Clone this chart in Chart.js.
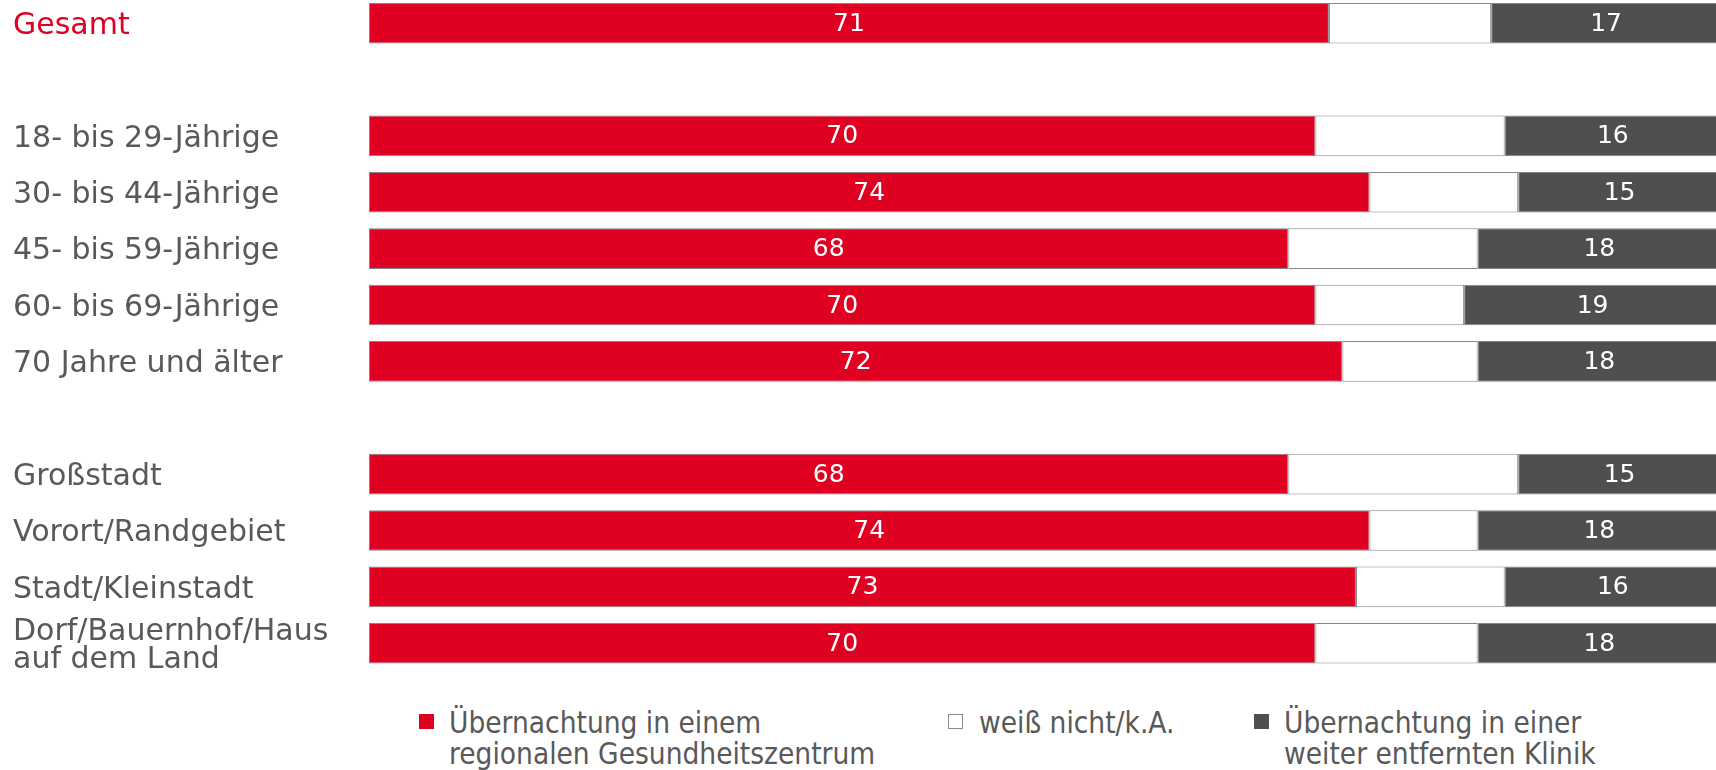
<!DOCTYPE html>
<html lang="de">
<head>
<meta charset="utf-8">
<title>Übernachtung – regional oder entfernt</title>
<script src="https://cdn.jsdelivr.net/npm/chart.js@4.4.1/dist/chart.umd.min.js"></script>
<style>
  html, body { margin: 0; padding: 0; background: #ffffff; }
  body { width: 1716px; height: 770px; position: relative; overflow: hidden; }
  #wrap { position: absolute; left: 0; top: -35.2px; width: 1722px; height: 722.4px; }
  .legend-item { position: absolute; font-family: "DejaVu Sans Condensed", "DejaVu Sans", sans-serif;
    font-size: 29.5px; line-height: 31px; color: #595959; white-space: nowrap; }
  .swatch { position: absolute; width: 15px; height: 15px; box-sizing: border-box; }
</style>
</head>
<body>
<div id="wrap"><canvas id="chart"></canvas></div>

<div class="swatch" style="left:419px; top:714px; background:#E00022;"></div>
<div class="legend-item" style="left:449px; top:708px;">Übernachtung in einem<br>regionalen Gesundheitszentrum</div>

<div class="swatch" style="left:948px; top:714px; background:#ffffff; border:1px solid #8c8c8c;"></div>
<div class="legend-item" style="left:979px; top:708px;">weiß nicht/k.A.</div>

<div class="swatch" style="left:1254px; top:714px; background:#4F4F4F;"></div>
<div class="legend-item" style="left:1284px; top:708px;">Übernachtung in einer<br>weiter entfernten Klinik</div>

<script>
// Rows (empty strings are spacer rows between the groups)
const categories = [
  'Gesamt',
  '',
  '18- bis 29-Jährige',
  '30- bis 44-Jährige',
  '45- bis 59-Jährige',
  '60- bis 69-Jährige',
  '70 Jahre und älter',
  '',
  'Großstadt',
  'Vorort/Randgebiet',
  'Stadt/Kleinstadt',
  ['Dorf/Bauernhof/Haus', 'auf dem Land']
];

// Shares in percent
const regional  = [71, null, 70, 74, 68, 70, 72, null, 68, 74, 73, 70];
const unknown   = [12, null, 14, 11, 14, 11, 10, null, 17,  8, 11, 12];
const distant   = [17, null, 16, 15, 18, 19, 18, null, 15, 18, 16, 18];

const seriesNames = [
  'Übernachtung in einem regionalen Gesundheitszentrum',
  'weiß nicht/k.A.',
  'Übernachtung in einer weiter entfernten Klinik'
];

const RED = '#E00022';
const DARK = '#4F4F4F';
const TEXT = '#595959';

// Writes the percentage in the middle of the red and dark segments
const segmentLabels = {
  id: 'segmentLabels',
  afterDatasetsDraw(chart) {
    const ctx = chart.ctx;
    ctx.save();
    ctx.font = '25px "DejaVu Sans", sans-serif';
    ctx.fillStyle = '#ffffff';
    ctx.textAlign = 'center';
    ctx.textBaseline = 'middle';
    [0, 2].forEach(di => {
      const meta = chart.getDatasetMeta(di);
      const values = chart.data.datasets[di].data;
      meta.data.forEach((bar, i) => {
        if (values[i] == null) return;
        const p = bar.getProps(['x', 'y', 'base'], true);
        ctx.fillText(String(values[i]), (p.x + p.base) / 2, p.y + 1);
      });
    });
    ctx.restore();
  }
};

new Chart(document.getElementById('chart'), {
  type: 'bar',
  data: {
    labels: categories,
    datasets: [
      { label: seriesNames[0], data: regional, backgroundColor: RED },
      { label: seriesNames[1], data: unknown, backgroundColor: '#ffffff' },
      { label: seriesNames[2], data: distant, backgroundColor: DARK }
    ]
  },
  options: {
    indexAxis: 'y',
    responsive: true,
    maintainAspectRatio: false,
    animation: false,
    layout: { padding: { left: 13, right: 1, top: 30, bottom: 16 } },
    datasets: {
      bar: {
        borderColor: '#858585',
        borderWidth: 1,
        borderSkipped: false,
        categoryPercentage: 1,
        barPercentage: 0.72
      }
    },
    scales: {
      x: { stacked: true, min: 0, max: 100, display: false },
      y: {
        stacked: true,
        grid: { display: false },
        border: { display: false },
        afterFit(scale) { scale.width = 356; },
        ticks: {
          autoSkip: false,
          crossAlign: 'far',
          padding: 0,
          labelOffset: 3,
          font: { family: '"DejaVu Sans", sans-serif', size: 30, lineHeight: 0.91 },
          color: (c) => (c.index === 0 ? RED : TEXT)
        }
      }
    },
    plugins: {
      legend: { display: false },
      tooltip: { enabled: false }
    }
  },
  plugins: [segmentLabels]
});
</script>
</body>
</html>
